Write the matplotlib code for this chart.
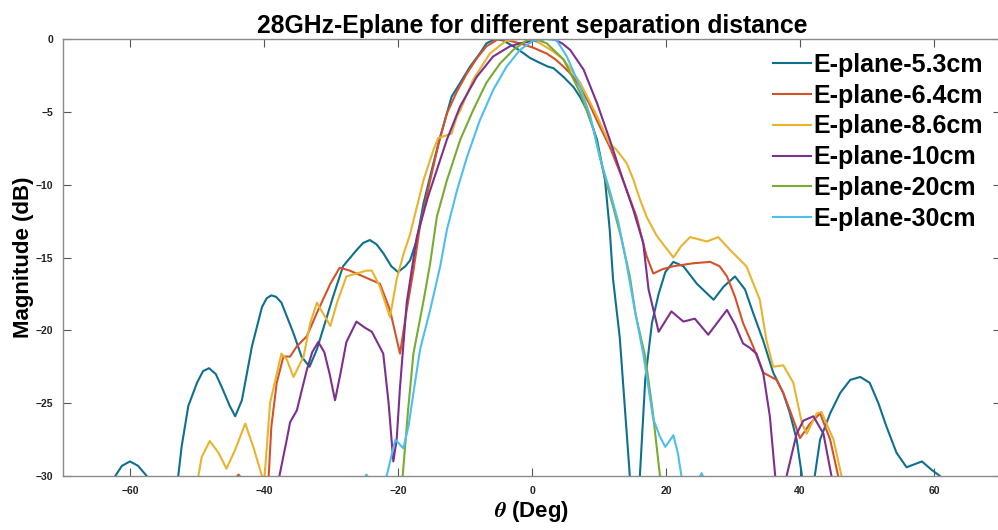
import numpy as np
import matplotlib
matplotlib.use("Agg")
import matplotlib.pyplot as plt

plt.rcParams["font.family"] = ["Liberation Sans", "DejaVu Sans"]
plt.rcParams["font.weight"] = "bold"
plt.rcParams["mathtext.fontset"] = "stix"

# values (theta in deg, magnitude in dB); points below -30 are off the axes
labels = ["E-plane-5.3cm", "E-plane-6.4cm", "E-plane-8.6cm",
          "E-plane-10cm", "E-plane-20cm", "E-plane-30cm"]
colors = ["#0E6F90", "#D4522A", "#E8B32E", "#7E2F8E", "#77AC30", "#4DBEEE"]

theta_53 = [-63.5, -62.2, -61.2, -60.0, -58.8, -57.5, -56.5, -54.0, -52.8, -52.3, -51.3, -50.0,
            -49.1, -48.2, -47.2, -46.3, -45.1, -44.3, -43.3, -41.8, -40.3, -39.6, -38.9, -38.2,
            -37.4, -35.6, -34.4, -33.2, -32.1, -30.9, -29.7, -28.2, -26.2, -25.2, -24.2, -23.2,
            -22.2, -21.0, -20.0, -18.9, -18.2, -17.2, -16.2, -14.7,
            -13.7, -12.7, -12.0, -10.7, -9.25, -7.8, -6.8, -5.5, -4.3, -2.8, -1.5, -0.3, 1.0,
            2.4, 3.2, 4.7, 6.2, 7.2, 8.2, 9.7, 10.9, 11.6, 12.1, 13.1, 14.6, 15.3, 16.1, 16.9,
            17.9, 18.9, 19.9, 21.1, 22.6, 24.6, 27.1, 28.6, 30.3, 31.8, 33.0, 34.5, 36.0, 37.5,
            38.5, 39.5, 40.3, 41.2, 42.2, 43.0, 44.5, 46.0, 47.5, 49.0, 50.4, 51.7, 52.9, 54.4,
            55.9, 58.2, 59.7, 60.9, 61.5]
mag_53 = [-32, -30, -29.3, -29.0, -29.3, -30, -32, -33, -30, -28.0, -25.2, -23.6,
          -22.8, -22.6, -23.0, -23.9, -25.2, -25.9, -24.8, -21.1, -18.4, -17.8, -17.6, -17.7,
          -18.1, -20.2, -21.8, -22.5, -21.3, -19.5, -17.7, -15.6, -14.5, -14.0, -13.8, -14.1,
          -14.7, -15.6, -16.0, -15.6, -15.2, -13.8, -11.3, -8.5,
          -6.7, -5.1, -3.96, -3.0, -1.9, -1.0, -0.3, 0.0, -0.1, -0.5, -0.9, -1.3, -1.6,
          -1.9, -2.0, -2.6, -3.3, -4.0, -4.9, -6.9, -9.7, -13.1, -16.5, -20.5, -30, -32, -30, -23.4,
          -19.5, -17.5, -16.0, -15.3, -15.6, -16.8, -17.9, -17.0, -16.3, -17.2, -18.8, -20.7, -22.9, -24.3,
          -25.7, -27.5, -30, -32, -30, -27.5, -25.7, -24.3, -23.4, -23.2, -23.6, -25.0, -26.6, -28.4,
          -29.4, -29.0, -29.6, -30, -31]

theta_64 = [-44.5, -43.8, -43.1, -41.5, -40.0, -39.3, -38.9, -38.1, -37.1, -36.1, -35.1, -33.6,
            -32.1, -30.1, -28.7, -27.2, -25.2, -22.7, -21.2, -19.7, -18.7, -17.7, -16.7, -15.2,
            -14.0, -12.7, -11.2, -9.7, -8.2, -6.8, -5.0, -3.5, -1.8, 0.2, 2.2, 3.5, 4.7, 6.0,
            7.2, 8.5, 9.7, 11.6, 13.6, 15.6, 17.1, 18.1, 19.5, 21.1, 24.0, 26.6, 28.0, 29.1,
            30.3, 31.5, 33.0, 34.5, 36.5, 37.5, 38.5, 40.0, 41.5, 43.0, 44.5, 45.7, 46.2]
mag_64 = [-30.3, -29.9, -30.3, -33, -33, -30, -26.6, -23.6, -21.8, -21.8, -21.1, -20.4,
          -18.8, -16.8, -15.7, -15.9, -16.3, -16.8, -18.6, -21.6, -18.6, -15.9, -12.8, -9.7,
          -7.3, -5.1, -3.6, -2.35, -1.3, -0.5, 0.0, -0.1, -0.3, -0.6, -1.0, -1.4, -1.9, -2.5,
          -3.3, -4.4, -5.6, -7.4, -9.7, -12.2, -14.9, -16.1, -15.8, -15.6, -15.4, -15.3, -15.6, -16.3,
          -17.7, -19.5, -21.1, -22.9, -23.4, -24.3, -25.5, -27.4, -26.4, -25.7, -27.5, -30, -32]

theta_86 = [-50.5, -49.8, -49.3, -48.1, -46.8, -45.6, -44.3, -42.8, -41.6, -40.3, -40.1, -39.9,
            -39.1, -37.4, -36.6, -35.6, -34.1, -33.1, -32.1, -30.1, -29.1, -27.7, -26.2, -24.7,
            -23.9, -22.7, -21.2, -20.2, -19.2, -18.2, -16.2, -14.7, -14.0, -12.0, -11.2, -10.7,
            -8.8, -6.3, -3.8, -1.8, 0.0, 1.2, 3.0, 4.7, 7.2, 9.7, 11.6, 12.6, 14.1, 15.1, 16.1,
            17.1, 18.6, 20.1, 21.1, 22.3, 23.6, 26.1, 27.8, 29.6, 32.0, 34.0, 35.0, 36.0, 37.5,
            39.0, 40.3, 41.0, 42.5, 43.2, 45.0, 46.2, 46.7]
mag_86 = [-32, -30, -28.7, -27.6, -28.4, -29.5, -28.2, -26.4, -28.0, -30, -31, -30,
          -25.0, -21.6, -22.0, -23.2, -21.8, -19.5, -18.1, -19.7, -18.1, -16.3, -16.1, -15.9,
          -15.9, -17.0, -19.1, -16.5, -14.8, -13.4, -9.7, -7.6, -6.8, -6.5, -5.3, -4.9,
          -2.8, -1.0, -0.1, 0.0, -0.05, -0.3, -0.8, -1.4, -3.0, -5.3, -7.2, -7.6, -8.5, -9.6, -11.0,
          -12.2, -13.5, -14.4, -15.0, -14.2, -13.6, -13.9, -13.6, -14.5, -15.6, -17.9, -20.7, -22.5, -22.4,
          -23.6, -26.4, -27.1, -25.7, -25.6, -27.5, -30, -32]

theta_10 = [-38.2, -37.7, -36.6, -36.1, -35.1, -34.3, -33.6, -32.8, -31.9, -31.0, -30.2, -29.4,
            -28.6, -27.7, -26.2, -25.0, -23.9, -22.2, -21.4, -20.7, -20.2, -19.7, -18.7, -17.2,
            -15.5, -12.7, -10.7, -8.25, -5.8, -3.3, -1.8, 0.5, 2.0, 3.2, 4.5, 5.7, 7.7, 9.7,
            11.6, 13.6, 15.1, 16.6, 17.4, 18.9, 20.8, 22.6, 24.3, 26.3, 29.1, 30.3, 31.5, 32.5,
            33.5, 34.5, 35.5, 36.3, 36.8, 37.5, 38.0, 39.5, 40.5, 42.0, 43.5, 44.7, 45.2]
mag_10 = [-32, -30, -27.5, -26.3, -25.5, -24.0, -22.7, -21.5, -20.8, -21.5, -23.0, -24.8,
          -23.0, -20.8, -19.4, -19.8, -20.1, -21.6, -25.0, -29.0, -27.5, -23.9, -18.1, -13.6,
          -10.8, -6.9, -4.6, -2.6, -1.2, -0.5, -0.3, -0.1, 0.0, 0.0, -0.3, -0.75, -2.1, -4.4,
          -6.9, -9.7, -11.7, -14.0, -17.2, -20.1, -18.7, -19.4, -19.2, -20.3, -18.6, -19.6, -20.9, -21.2,
          -21.6, -22.9, -25.9, -30, -32, -32, -30, -27.1, -26.2, -25.9, -27.1, -30, -32]

theta_20 = [-19.8, -19.3, -18.5, -17.7, -16.2, -15.2, -14.2, -12.7, -10.7, -8.8, -6.8, -4.8,
            -2.8, -0.8, 0.5, 2.2, 4.7, 7.2, 9.2, 10.6, 12.1, 13.4, 14.6, 15.5, 16.9, 18.0,
            19.1, 19.5]
mag_20 = [-32, -30, -25.5, -21.6, -18.0, -15.4, -12.2, -9.7, -6.9, -4.9, -3.0, -1.7,
          -0.75, -0.1, 0.0, -0.3, -1.4, -3.7, -6.2, -9.0, -11.5, -13.8, -16.3, -19.0, -21.8, -25.5,
          -30, -32]

theta_30 = [-25.2, -24.7, -24.2, -23.0, -22.2, -21.7, -20.4, -19.2, -18.4, -17.7, -16.7, -15.2,
            -13.7, -12.7, -11.2, -9.7, -7.8, -5.8, -3.8, -1.8, 0.2, 2.0, 3.7, 5.2, 7.2, 8.7,
            10.1, 11.6, 12.9, 14.1, 15.3, 16.6, 18.1, 19.1, 19.9, 21.1, 21.8, 22.3, 22.8, 24.0,
            24.8, 25.3, 25.8]
mag_30 = [-30.3, -29.9, -30.3, -32, -32, -30, -27.5, -28.1, -26.5, -24.3, -21.3, -18.6,
          -15.6, -13.1, -10.4, -8.1, -5.6, -3.5, -1.9, -0.75, -0.1, 0.0, -0.1, -1.2, -3.3, -5.3,
          -8.1, -10.4, -12.6, -15.4, -18.5, -21.6, -26.1, -27.3, -28.0, -27.2, -28.5, -30, -32, -32,
          -30.3, -29.8, -30.3]

thetas = [theta_53, theta_64, theta_86, theta_10, theta_20, theta_30]
mags = [mag_53, mag_64, mag_86, mag_10, mag_20, mag_30]

fig = plt.figure(figsize=(9.98, 5.3), dpi=100)
ax = fig.add_axes([63 / 998, 54 / 530, 938 / 998, 437 / 530])

for th, m, lab, c in zip(thetas, mags, labels, colors):
    ax.plot(th, m, color=c, linewidth=1.5, label=lab, solid_joinstyle="round")

ax.set_xlim(-70, 70)
ax.set_ylim(-30, 0)
ax.set_xticks(np.arange(-60, 61, 20))
ax.set_yticks(np.arange(-30, 1, 5))
ax.tick_params(direction="in", length=6, width=0.8, color="#555555",
               top=True, right=True, labelsize=7.5, pad=7, labelcolor="#222222")
for s in ax.spines.values():
    s.set_color("#8a8a8a")
    s.set_linewidth(1.0)

ax.set_title("28GHz-Eplane for different separation distance",
             fontsize=17.8, fontweight="bold", pad=4)
ax.set_xlabel(r"$\theta$ (Deg)", fontsize=16, fontweight="bold", labelpad=2)
ax.set_ylabel("Magnitude (dB)", fontsize=16, fontweight="bold", labelpad=1)

fig.legend(loc="upper left", bbox_to_anchor=(773 / 998, 1 - 53 / 530), frameon=False,
           handlelength=1.5, handletextpad=0.12, labelspacing=0.27,
           borderpad=0, borderaxespad=0, prop={"weight": "bold", "size": 18})

fig.savefig("out.png", dpi=100)
